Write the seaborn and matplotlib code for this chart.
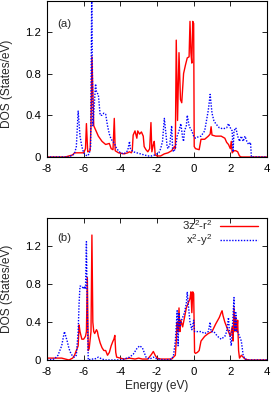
import matplotlib
matplotlib.use("Agg")
import matplotlib.pyplot as plt
import seaborn as sns
import pandas as pd

# ---------------- data ----------------
# Panel (a)
a_red_e = [-8.0, -7.0, -6.8, -6.6, -6.5, -6.0, -5.9, -5.85, -5.78, -5.65, -5.6, -5.55, -5.45, -5.2, -5.0, -4.8,
           -4.6, -4.5, -4.4, -4.33, -4.28, -4.1, -3.8, -3.6, -3.5, -3.4, -3.35, -3.3, -3.2, -3.1, -3.05, -2.95,
           -2.85, -2.75, -2.7, -2.6, -2.5, -2.4, -2.33, -2.28, -2.2, -2.15, -2.1, -2.0, -1.8, -1.6, -1.4, -1.2,
           -1.05, -1.0, -0.95, -0.88, -0.8, -0.72, -0.65, -0.55, -0.45, -0.35, -0.25, -0.2, -0.15, -0.1, -0.05,
           0.0, 0.03, 0.1, 0.3, 0.4, 0.6, 0.8, 0.9, 0.95, 1.0, 1.2, 1.5, 1.7, 1.8, 1.9, 2.0, 2.05, 2.1, 2.2,
           2.3, 2.4, 2.5, 2.6, 4.0]
a_red_v = [0.0, 0.0, 0.01, 0.02, 0.04, 0.04, 0.08, 0.32, 0.05, 0.06, 0.3, 0.96, 0.3, 0.2, 0.15, 0.12,
           0.13, 0.08, 0.07, 0.37, 0.06, 0.04, 0.03, 0.04, 0.05, 0.04, 0.06, 0.21, 0.25, 0.18, 0.25, 0.22,
           0.24, 0.2, 0.1, 0.07, 0.05, 0.08, 0.33, 0.05, 0.12, 0.15, 0.02, 0.01, 0.01, 0.03, 0.04, 0.06,
           0.1, 0.08, 1.12, 0.35, 1.0, 0.55, 0.52, 0.8, 0.88, 0.95, 0.96, 1.3, 1.0, 0.9, 1.3,
           1.28, 0.1, 0.08, 0.07, 0.17, 0.17, 0.2, 0.22, 0.29, 0.21, 0.2, 0.2, 0.18, 0.14, 0.12, 0.08, 0.15,
           0.04, 0.06, 0.06, 0.05, 0.01, 0.0, 0.0]

a_blue_e = [-8.0, -6.8, -6.7, -6.5, -6.4, -6.3, -6.2, -6.1, -6.0, -5.9, -5.8, -5.7, -5.62, -5.56, -5.5,
            -5.42, -5.35, -5.3, -5.2, -5.15, -5.1, -5.0, -4.9, -4.8, -4.7, -4.6, -4.5, -4.4, -4.3, -4.2, -4.1,
            -4.0, -3.8, -3.6, -3.5, -3.45, -3.3, -3.1, -2.9, -2.7, -2.5, -2.3, -2.1, -1.9, -1.8, -1.7, -1.6,
            -1.5, -1.45, -1.4, -1.3, -1.2, -1.15, -1.1, -1.0, -0.9, -0.8, -0.7, -0.6, -0.55, -0.5, -0.4, -0.35,
            -0.25, -0.2, -0.1, 0.0, 0.1, 0.2, 0.4, 0.6, 0.7, 0.8, 0.9, 1.0, 1.1, 1.2, 1.4, 1.6, 1.8, 1.9, 2.0,
            2.1, 2.15, 2.2, 2.3, 2.4, 2.5, 2.6, 2.7, 2.8, 2.9, 3.0, 3.1, 3.15, 4.0]
a_blue_v = [0.0, 0.0, 0.01, 0.03, 0.1, 0.44, 0.2, 0.1, 0.04, 0.02, 0.01, 0.03, 0.1, 1.6, 0.3,
            0.5, 0.7, 0.62, 0.6, 0.5, 0.4, 0.4, 0.42, 0.41, 0.3, 0.22, 0.17, 0.15, 0.12, 0.08, 0.06,
            0.04, 0.03, 0.06, 0.15, 0.08, 0.05, 0.04, 0.03, 0.02, 0.01, 0.01, 0.02, 0.04, 0.08, 0.15, 0.37,
            0.2, 0.1, 0.08, 0.12, 0.3, 0.08, 0.05, 0.08, 0.2, 0.25, 0.32, 0.18, 0.15, 0.25, 0.3, 0.4,
            0.3, 0.28, 0.25, 0.2, 0.18, 0.19, 0.2, 0.25, 0.35, 0.45, 0.6, 0.42, 0.35, 0.32, 0.28, 0.27, 0.28, 0.32, 0.28,
            0.25, 0.05, 0.25, 0.28, 0.2, 0.15, 0.2, 0.15, 0.2, 0.15, 0.12, 0.14, 0.0, 0.0]

# Panel (b)
b_red_e = [-8.0, -7.2, -7.0, -6.8, -6.6, -6.5, -6.4, -6.3, -6.25, -6.2, -6.1, -6.0, -5.9, -5.85, -5.8, -5.75,
           -5.7, -5.6, -5.55, -5.5, -5.45, -5.4, -5.3, -5.25, -5.2, -5.1, -5.0, -4.9, -4.8, -4.7, -4.6, -4.5,
           -4.4, -4.35, -4.3, -4.25, -4.2, -4.0, -3.8, -3.5, -3.2, -3.0, -2.8, -2.5, -2.3, -2.2, -2.1, -2.0,
           -1.8, -1.5, -1.2, -1.0, -0.95, -0.9, -0.85, -0.8, -0.75, -0.7, -0.6, -0.5, -0.4, -0.3, -0.2, -0.15,
           -0.1, -0.05, 0.0, 0.05, 0.1, 0.2, 0.3, 0.4, 0.6, 0.8, 1.0, 1.2, 1.4, 1.5, 1.55, 1.6, 1.7, 1.8, 1.9,
           2.0, 2.1, 2.15, 2.2, 2.25, 2.3, 2.35, 2.4, 2.45, 2.5, 2.6, 2.7, 2.8, 3.0, 4.0]
b_red_v = [0.02, 0.02, 0.01, 0.0, 0.02, 0.05, 0.1, 0.15, 0.37, 0.3, 0.22, 0.22, 0.25, 0.3, 0.87, 0.1,
           0.12, 0.3, 1.32, 0.4, 0.3, 0.28, 0.32, 0.3, 0.25, 0.18, 0.13, 0.1, 0.1, 0.05, 0.08, 0.15,
           0.2, 0.22, 0.26, 0.08, 0.03, 0.02, 0.01, 0.02, 0.01, 0.02, 0.01, 0.01, 0.06, 0.09, 0.05, 0.02,
           0.01, 0.01, 0.01, 0.05, 0.2, 0.4, 0.3, 0.55, 0.3, 0.42, 0.35, 0.45, 0.55, 0.6, 0.65, 0.72,
           0.5, 0.72, 0.7, 0.08, 0.07, 0.08, 0.1, 0.2, 0.25, 0.28, 0.3, 0.38, 0.45, 0.5, 0.52, 0.47, 0.4, 0.35, 0.3,
           0.25, 0.35, 0.2, 0.55, 0.3, 0.45, 0.3, 0.42, 0.1, 0.02, 0.05, 0.03, 0.01, 0.0, 0.0]

b_blue_e = [-8.0, -7.6, -7.4, -7.2, -7.05, -6.9, -6.8, -6.7, -6.6, -6.5, -6.4, -6.3, -6.25, -6.2, -6.1, -6.0,
            -5.95, -5.9, -5.85, -5.8, -5.75, -5.6, -5.4, -5.2, -5.0, -4.8, -4.0, -3.8, -3.5, -3.3, -3.1, -2.95,
            -2.8, -2.7, -2.6, -2.4, -2.2, -2.0, -1.5, -1.2, -1.1, -1.0, -0.9, -0.85, -0.8, -0.75, -0.7, -0.6,
            -0.5, -0.4, -0.35, -0.3, -0.2, -0.1, 0.0, 0.05, 0.2, 0.4, 0.6, 0.8, 0.9, 0.95, 1.1, 1.3, 1.5, 1.7,
            1.8, 1.9, 1.95, 2.05, 2.1, 2.2, 2.25, 2.3, 2.35, 2.4, 2.5, 2.6, 2.7, 2.8, 3.0, 4.0]
b_blue_v = [0.0, 0.01, 0.05, 0.15, 0.3, 0.2, 0.12, 0.07, 0.04, 0.03, 0.05, 0.3, 0.6, 0.78, 0.78, 0.75,
            0.78, 0.75, 1.25, 0.5, 0.0, 0.01, 0.01, 0.03, 0.01, 0.0, 0.0, 0.01, 0.03, 0.06, 0.12, 0.15,
            0.13, 0.08, 0.03, 0.01, 0.03, 0.01, 0.0, 0.01, 0.05, 0.2, 0.52, 0.15, 0.5, 0.35, 0.4, 0.45,
            0.5, 0.6, 0.72, 0.6, 0.4, 0.32, 0.42, 0.3, 0.3, 0.3, 0.28, 0.3, 0.4, 0.3, 0.3, 0.25, 0.22, 0.25,
            0.3, 0.45, 0.3, 0.15, 0.3, 0.66, 0.3, 0.5, 0.3, 0.3, 0.25, 0.2, 0.05, 0.01, 0.0, 0.0]

panel_labels = ["(a)", "(b)"]
series_names = ["3z$^2$-r$^2$", "x$^2$-y$^2$"]
x_ticks = [-8, -6, -4, -2, 0, 2, 4]
y_ticks = [0, 0.4, 0.8, 1.2]
y_tick_labels = ["0", "0.4", "0.8", "1.2"]

# ---------------- plot ----------------
sns.set_style("ticks")
plt.rcParams["font.family"] = ["Liberation Sans", "DejaVu Sans"]
plt.rcParams["mathtext.default"] = "regular"

FS = 8.2

W, H = 273, 397
fig = plt.figure(figsize=(W / 100, H / 100), dpi=100)

def px_axes(left, top, right, bottom):
    return fig.add_axes([left / W, 1 - bottom / H, (right - left) / W, (bottom - top) / H])

ax_a = px_axes(47, 0.5, 267, 157)
ax_b = px_axes(47, 218, 267, 360)

red = "#ff0000"
blue = "#0000ff"

panels = [
    (ax_a, a_red_e, a_red_v, a_blue_e, a_blue_v),
    (ax_b, b_red_e, b_red_v, b_blue_e, b_blue_v),
]

for i, (ax, re_, rv, be, bv) in enumerate(panels):
    dr = pd.DataFrame({"E": re_, "DOS": rv})
    db = pd.DataFrame({"E": be, "DOS": bv})
    sns.lineplot(data=dr, x="E", y="DOS", ax=ax, color=red, lw=1.0, label=series_names[0], sort=False)
    sns.lineplot(data=db, x="E", y="DOS", ax=ax, color=blue, lw=1.0, ls=(0, (1, 1.1)),
                 label=series_names[1], sort=False)
    ax.set_xlim(-8, 4)
    ax.set_ylim(0, 1.5)
    ax.set_xticks(x_ticks)
    ax.set_xticklabels([str(t) for t in x_ticks])
    ax.set_yticks(y_ticks)
    ax.set_yticklabels(y_tick_labels)
    ax.tick_params(direction="in", top=True, right=True, length=3.5, width=0.6,
                   labelsize=FS, colors="black", pad=4.2)
    ax.tick_params(axis="x", pad=5.0)
    for s in ax.spines.values():
        s.set_linewidth(0.8)
        s.set_color("black")
    ax.set_ylabel("DOS (States/eV)", fontsize=FS + 0.4)
    ax.set_xlabel("")
    if i == 0:
        ax.get_legend().remove()
        ax.yaxis.set_label_coords(-0.155, 0.47)
        ax.text(0.045, 0.853, panel_labels[i], transform=ax.transAxes, fontsize=FS, va="center", ha="left")
    else:
        ax.yaxis.set_label_coords(-0.155, 0.5)
        ax.text(0.045, 0.86, panel_labels[i], transform=ax.transAxes, fontsize=FS, va="center", ha="left")
        ax.legend(loc="upper right", bbox_to_anchor=(0.98, 1.03), frameon=False, markerfirst=False,
                  fontsize=FS, handlelength=3.3, handletextpad=0.7, labelspacing=0.0,
                  borderaxespad=0.0)

ax_b.set_xlabel("Energy (eV)", fontsize=FS + 0.4, labelpad=2)

fig.savefig("out.png", dpi=100)
